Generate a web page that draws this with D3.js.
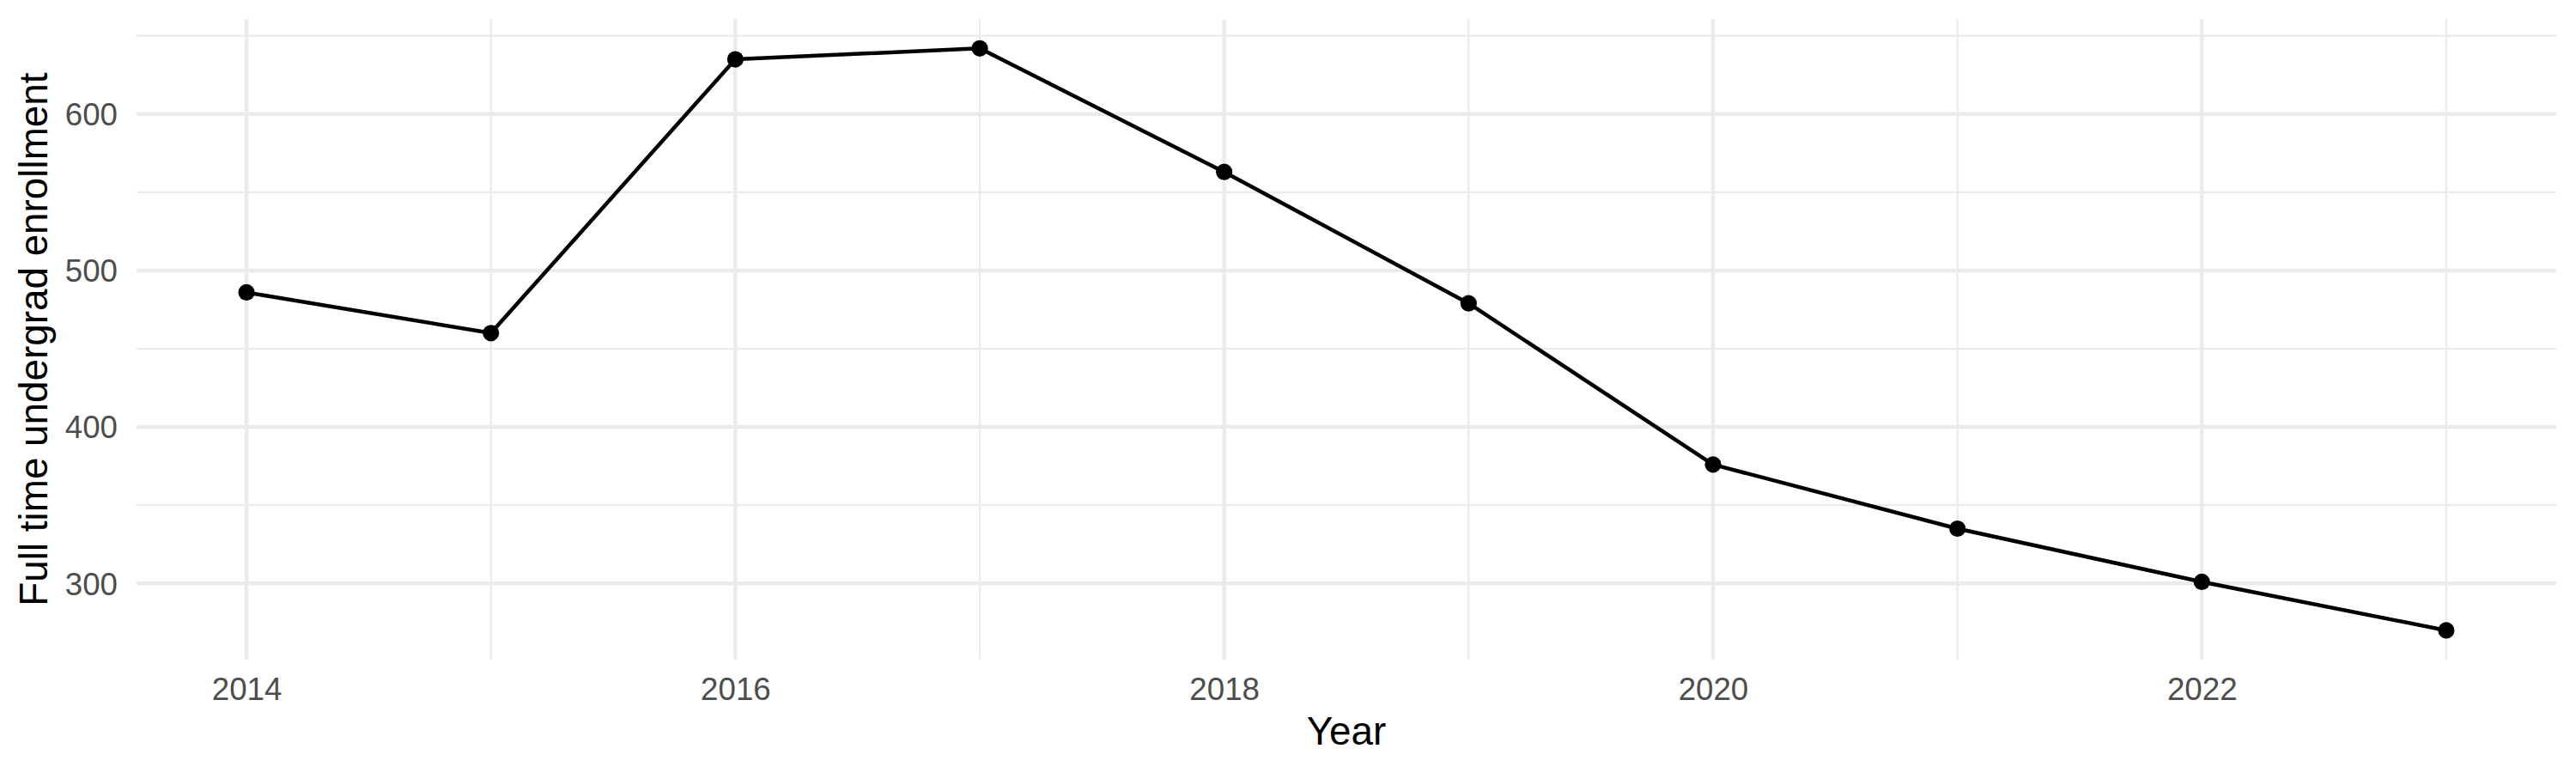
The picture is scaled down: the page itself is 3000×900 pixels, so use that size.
<!DOCTYPE html>
<html>
<head>
<meta charset="utf-8">
<script src="https://cdn.jsdelivr.net/npm/d3@7"></script>
<style>
  body { margin: 0; background: #fff; }
  text { font-family: "Liberation Sans", Arial, sans-serif; }
</style>
</head>
<body>
<div id="chart"></div>
<script>
// data
var years = [2014, 2015, 2016, 2017, 2018, 2019, 2020, 2021, 2022, 2023];
var enrollment = [486, 460, 635, 642, 563, 479, 376, 335, 301, 270];
var xMajorTicks = [2014, 2016, 2018, 2020, 2022];
var xMinorTicks = [2015, 2017, 2019, 2021, 2023];
var yMajorTicks = [300, 400, 500, 600];
var yMinorTicks = [350, 450, 550, 650];

var width = 3000, height = 900;
var panel = {left: 159, right: 2977, top: 22.4, bottom: 767.8};

var svg = d3.select('#chart').append('svg')
  .attr('width', width)
  .attr('height', height);

// ggplot style 5% expansion
var xExt = d3.extent(years), yExt = d3.extent(enrollment);
var xPad = (xExt[1] - xExt[0]) * 0.05, yPad = (yExt[1] - yExt[0]) * 0.05;

var x = d3.scaleLinear()
  .domain([xExt[0] - xPad, xExt[1] + xPad])
  .range([panel.left, panel.right]);

var y = d3.scaleLinear()
  .domain([yExt[0] - yPad, yExt[1] + yPad])
  .range([panel.bottom, panel.top]);

var grid = svg.append('g').attr('class', 'grid');

// minor grid
grid.selectAll('.yminor').data(yMinorTicks).enter().append('line')
  .attr('x1', panel.left).attr('x2', panel.right)
  .attr('y1', d => y(d)).attr('y2', d => y(d))
  .attr('stroke', '#ebebeb').attr('stroke-width', 2.3);
grid.selectAll('.xminor').data(xMinorTicks).enter().append('line')
  .attr('y1', panel.top).attr('y2', panel.bottom)
  .attr('x1', d => x(d)).attr('x2', d => x(d))
  .attr('stroke', '#ebebeb').attr('stroke-width', 2.3);

// major grid
grid.selectAll('.ymajor').data(yMajorTicks).enter().append('line')
  .attr('x1', panel.left).attr('x2', panel.right)
  .attr('y1', d => y(d)).attr('y2', d => y(d))
  .attr('stroke', '#ebebeb').attr('stroke-width', 4.5);
grid.selectAll('.xmajor').data(xMajorTicks).enter().append('line')
  .attr('y1', panel.top).attr('y2', panel.bottom)
  .attr('x1', d => x(d)).attr('x2', d => x(d))
  .attr('stroke', '#ebebeb').attr('stroke-width', 4.5);

// axes (labels only, theme_minimal)
var xAxis = svg.append('g')
  .attr('transform', `translate(0, ${panel.bottom})`)
  .call(d3.axisBottom(x).tickValues(xMajorTicks).tickFormat(d3.format('d')).tickSize(0).tickPadding(47));
var yAxis = svg.append('g')
  .attr('transform', `translate(${panel.left}, 0)`)
  .call(d3.axisLeft(y).tickValues(yMajorTicks).tickFormat(d3.format('d')).tickSize(0).tickPadding(22));

[xAxis, yAxis].forEach(function(a) {
  a.select('.domain').remove();
  a.selectAll('text')
    .attr('fill', '#4d4d4d')
    .style('font-size', '36.7px')
    .style('font-family', '"Liberation Sans", Arial, sans-serif');
});
xAxis.selectAll('text').attr('dy', 0);
yAxis.selectAll('text').attr('dy', '0.35em');

// line + points
var line = d3.line()
  .x((d, i) => x(years[i]))
  .y(d => y(d));

svg.append('path')
  .datum(enrollment)
  .attr('d', line)
  .attr('fill', 'none')
  .attr('stroke', '#000')
  .attr('stroke-width', 4.5)
  .attr('stroke-linejoin', 'round');

svg.selectAll('.pt').data(enrollment).enter().append('circle')
  .attr('class', 'pt')
  .attr('cx', (d, i) => x(years[i]))
  .attr('cy', d => y(d))
  .attr('r', 9.6)
  .attr('fill', '#000');

// axis titles
svg.append('text')
  .attr('x', (panel.left + panel.right) / 2)
  .attr('y', 867)
  .attr('text-anchor', 'middle')
  .style('font-size', '45.8px')
  .attr('fill', '#000')
  .text('Year');

svg.append('text')
  .attr('transform', `translate(55, ${(panel.top + panel.bottom) / 2}) rotate(-90)`)
  .attr('text-anchor', 'middle')
  .style('font-size', '45.8px')
  .attr('fill', '#000')
  .text('Full time undergrad enrollment');
</script>
</body>
</html>
